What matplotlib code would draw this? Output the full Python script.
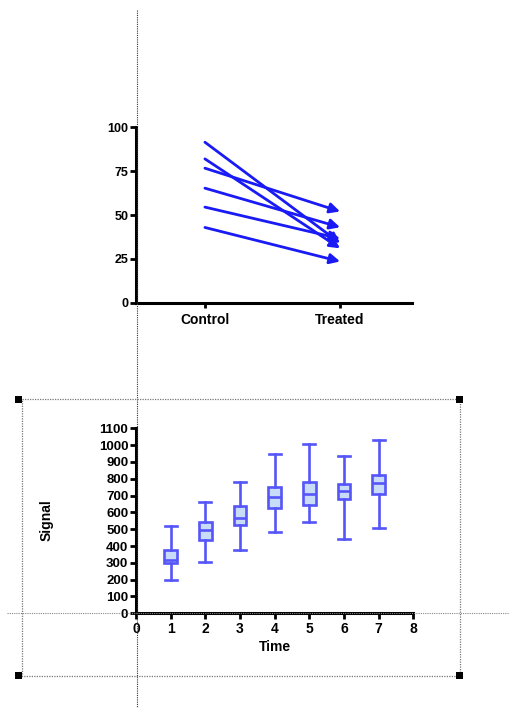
import matplotlib
matplotlib.use("Agg")
import matplotlib.pyplot as plt
from matplotlib.lines import Line2D
from matplotlib.patches import Rectangle

plt.rcParams['font.family'] = ['Liberation Sans', 'DejaVu Sans']
plt.rcParams['font.weight'] = 'bold'

# ---- top chart: before / after pairs ----
groups = ['Control', 'Treated']
control = [91.5, 82.0, 76.7, 65.3, 54.5, 42.9]
treated = [34.0, 31.0, 52.0, 43.0, 36.5, 23.5]
top_yticks = [0, 25, 50, 75, 100]

# ---- bottom chart: box plot over time ----
times = [1, 2, 3, 4, 5, 6, 7]
whis_lo = [196, 307, 375, 484, 543, 440, 507]
q1 = [297, 438, 525, 628, 644, 682, 712]
median = [317, 494, 565, 690, 708, 727, 773]
q3 = [375, 543, 640, 751, 779, 771, 823]
whis_hi = [519, 660, 779, 947, 1007, 934, 1033]
bottom_xticks = [0, 1, 2, 3, 4, 5, 6, 7, 8]
bottom_yticks = list(range(0, 1101, 100))

W, H = 509, 708
fig = plt.figure(figsize=(W / 100, H / 100), dpi=100)


def fx(x):
    return x / W


def fy(y):
    return 1 - y / H


def axes_rect(x0, y0, x1, y1):
    # pixel box (top-left origin) -> figure fraction rect
    return [fx(x0), fy(y1), fx(x1) - fx(x0), fy(y0) - fy(y1)]


def style_axes(ax):
    for s in ['top', 'right']:
        ax.spines[s].set_visible(False)
    for s in ['left', 'bottom']:
        ax.spines[s].set_linewidth(2.2)
    ax.tick_params(direction='out', width=2, length=4.5, colors='black', pad=1)


# top chart
ax1 = fig.add_axes(axes_rect(136, 127.3, 411.7, 302.7))
arrow_color = '#1a1af5'
for c, t in zip(control, treated):
    ax1.annotate('', xy=(1, t), xytext=(0, c),
                 arrowprops=dict(arrowstyle='-|>,head_length=0.6,head_width=0.3',
                                 color=arrow_color, lw=2.0, mutation_scale=10,
                                 shrinkA=0, shrinkB=0))
ax1.set_xlim(-0.51, 1.53)
ax1.set_ylim(0, 100)
ax1.set_xticks([0, 1])
ax1.set_xticklabels(groups, fontsize=10, fontweight='bold')
ax1.set_yticks(top_yticks)
ax1.set_yticklabels([str(v) for v in top_yticks], fontsize=9, fontweight='bold')
style_axes(ax1)
ax1.tick_params(axis='x', length=3.5, pad=4)

# bottom chart
ax2 = fig.add_axes(axes_rect(136, 428.3, 413.3, 613.3))
stats = []
for lo, a, m, b, hi in zip(whis_lo, q1, median, q3, whis_hi):
    stats.append(dict(whislo=lo, q1=a, med=m, q3=b, whishi=hi, fliers=[]))
edge = '#5555f8'
face = '#c8dcf8'
ax2.bxp(stats, positions=times, widths=0.37, capwidths=0.35, patch_artist=True,
        showfliers=False, manage_ticks=False,
        boxprops=dict(facecolor=face, edgecolor=edge, linewidth=1.9),
        medianprops=dict(color=edge, linewidth=1.9),
        whiskerprops=dict(color=edge, linewidth=1.9),
        capprops=dict(color=edge, linewidth=1.9))
ax2.set_xlim(0, 8)
ax2.set_ylim(0, 1100)
ax2.set_xticks(bottom_xticks)
ax2.set_xticklabels([str(v) for v in bottom_xticks], fontsize=10, fontweight='bold')
ax2.set_yticks(bottom_yticks)
ax2.set_yticklabels([str(v) for v in bottom_yticks], fontsize=9.5, fontweight='bold')
style_axes(ax2)
ax2.tick_params(axis='x', length=4.5, pad=2)
ax2.set_xlabel('Time', fontsize=10, fontweight='bold', labelpad=3)
ax2.set_ylabel('Signal', fontsize=10, fontweight='bold')
ax2.yaxis.label.set_verticalalignment('center')
ax2.yaxis.set_label_coords(fx(47), fy(520), transform=fig.transFigure)

# editor guides: dotted lines, selection frame and handles
dot = (0, (1, 1))
fig.add_artist(Line2D([fx(137), fx(137)], [fy(10), fy(708)], color='#333333',
                      lw=0.8, linestyle=dot, transform=fig.transFigure, zorder=10))
fig.add_artist(Line2D([fx(7), fx(509)], [fy(613.3), fy(613.3)], color='#888888',
                      lw=0.8, linestyle=dot, transform=fig.transFigure, zorder=10))
fx0, fy0, fx1, fy1 = 21.5, 399, 459.5, 675.5
frame_pts_x = [fx0, fx1, fx1, fx0, fx0]
frame_pts_y = [fy0, fy0, fy1, fy1, fy0]
fig.add_artist(Line2D([fx(v) for v in frame_pts_x], [fy(v) for v in frame_pts_y],
                      color='#777777', lw=0.9, linestyle=dot,
                      transform=fig.transFigure, zorder=10))
for hx, hy in [(fx0 - 3, fy0), (fx1, fy0), (fx0 - 3, fy1), (fx1, fy1)]:
    fig.add_artist(Rectangle((fx(hx - 3.5), fy(hy + 3.5)), 7 / W, 7 / H,
                             facecolor='black', edgecolor='none',
                             transform=fig.transFigure, zorder=11))

fig.savefig('out.png', dpi=100)
